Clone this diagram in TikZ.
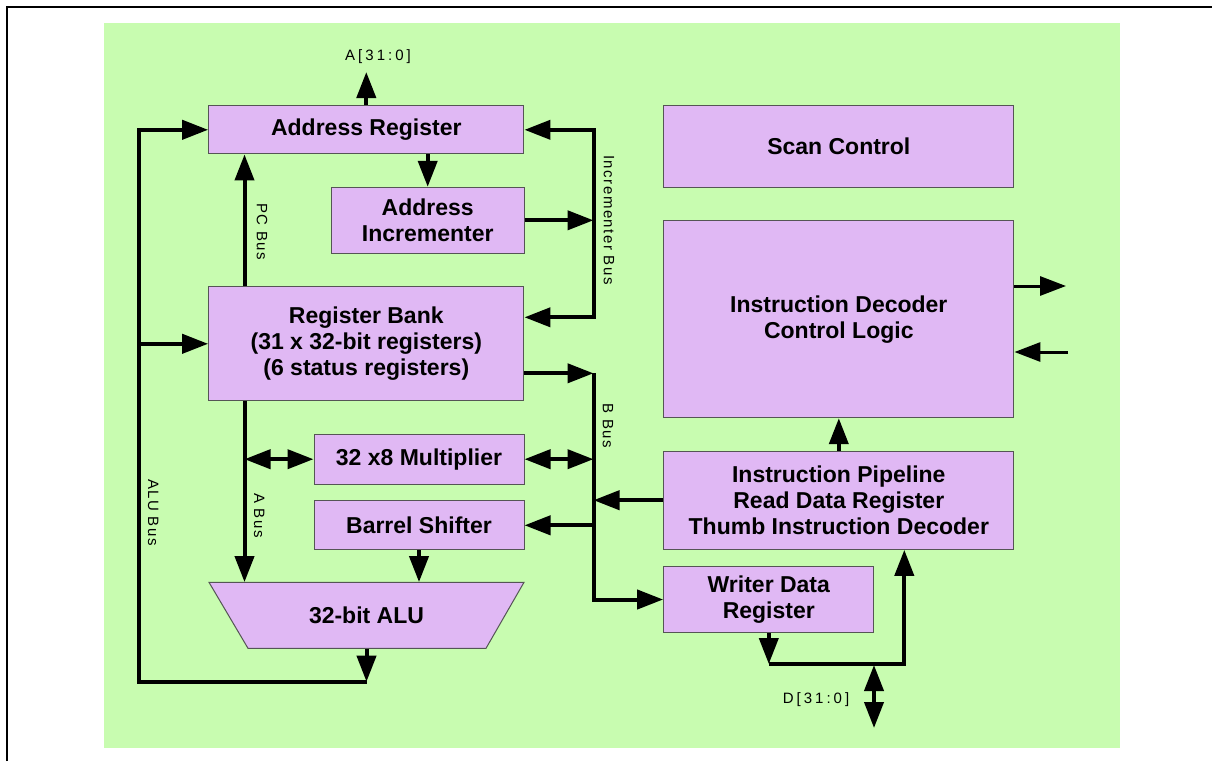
\documentclass[tikz,border=0pt]{standalone}
\usepackage{fontspec}
\setmainfont{Liberation Sans}
\newfontfamily\lblfont[LetterSpace=10]{Liberation Sans}
\newfontfamily\sigfont[LetterSpace=20]{Liberation Sans}
\usetikzlibrary{arrows.meta,calc}
\definecolor{bggreen}{RGB}{200,252,176}
\definecolor{boxpurple}{RGB}{224,184,244}
\definecolor{boxedge}{RGB}{85,85,85}
\tikzset{
  tri/.tip={Triangle[length=26pt 0 0,width=19pt 0 0]},
  blk/.style={draw=boxedge,line width=1pt,fill=boxpurple,inner sep=0pt,align=center,
    font=\bfseries\fontsize{23}{26}\selectfont},
  txt/.style={inner sep=0pt,align=center,font=\bfseries\fontsize{23}{26}\selectfont},
  bus/.style={line width=4pt,draw=black,line join=miter},
  thinbus/.style={line width=3pt,draw=black},
  lbl/.style={font=\lblfont\fontsize{15}{17}\selectfont,inner sep=0pt},
  sig/.style={font=\sigfont\fontsize{15}{17}\selectfont,inner sep=0pt}
}
\begin{document}
\begin{tikzpicture}[x=1pt,y=-1pt]
\useasboundingbox (0,0) rectangle (1212,761);
% frame and background
\draw[line width=2pt] (7,761) -- (7,7) -- (1212,7);
\fill[bggreen] (104,23) rectangle (1120,748);

% blocks
\node[blk,minimum width=315.3pt,minimum height=48.3pt] (ar) at (366.3,129.8) {Address Register};
\node[blk,minimum width=350.3pt,minimum height=81.7pt] (sc) at (838.8,146.2) {Scan Control};
\node[blk,minimum width=192.7pt,minimum height=66pt] (ai) at (427.7,220.3) {Address\\Incrementer};
\node[blk,minimum width=315.3pt,minimum height=114.3pt] (rb) at (366.3,343.8) {Register Bank\\(31 x 32-bit registers)\\(6 status registers)};
\node[blk,minimum width=350.3pt,minimum height=197pt] (id) at (838.8,319.2) {Instruction Decoder\\Control Logic};
\node[blk,minimum width=210pt,minimum height=49.7pt] (mul) at (419,459.2) {32 x8 Multiplier};
\node[blk,minimum width=210pt,minimum height=49.3pt] (bs) at (419,525.3) {Barrel Shifter};
\node[blk,minimum width=350.3pt,minimum height=98.3pt] (ip) at (838.8,500.2) {Instruction Pipeline\\Read Data Register\\Thumb Instruction Decoder};
\node[blk,minimum width=210.3pt,minimum height=65.6pt] (wdr) at (768.8,599.5) {Writer Data\\Register};

% ALU trapezoid
\coordinate (alutl) at (209,582.3);
\coordinate (alutr) at (524,582.3);
\coordinate (alubr) at (486,648.3);
\coordinate (alubl) at (248,648.3);
\filldraw[draw=boxedge,line width=1pt,fill=boxpurple] (alutl) -- (alutr) -- (alubr) -- (alubl) -- cycle;
\node[txt,minimum width=315pt,minimum height=66pt] (alu) at (366.5,615.3) {32-bit ALU};

% helper coordinates
\coordinate (aout) at (366.3,72);
\coordinate (abx) at (244.5,0);
\coordinate (ibtop) at (593.5,129.8);
\coordinate (ibbot) at (593.5,317.3);
\coordinate (bbtop) at (593.5,373.3);
\coordinate (bbbot) at (593.5,599.5);
\coordinate (alub) at (366.5,681.7);
\coordinate (alul) at (139.3,681.7);
\coordinate (idout) at (1066,286);
\coordinate (idin) at (1068,352);
\coordinate (wdrdown) at (768.8,664);
\coordinate (dright) at (904.3,664);
\coordinate (dtop) at (874,665);
\coordinate (dbot) at (874,728);

% connectors
\draw[bus,-tri] (ar.north) -- (aout);
\draw[bus,-tri] (rb.north -| abx) -- (ar.south -| abx);
\draw[bus,-tri] (ar.south -| ai.north) -- (ai.north);
\draw[bus,-tri] (ai.east) -- (ai.east -| ibtop);
\draw[bus,-tri] (ibbot) -- (ibtop) -- (ar.east);
\draw[bus,-tri] (ibtop) -- (ibbot) -- (rb.east |- ibbot);
\draw[bus,-tri] (rb.east |- bbtop) -- (bbtop);
\draw[bus,-tri] (bbtop) -- (bbbot) -- (wdr.west);
\draw[bus,tri-tri] (mul.east) -- (mul.east -| bbtop);
\draw[bus,-tri] (ip.west) -- (ip.west -| bbtop);
\draw[bus,-tri] (bs.east -| bbtop) -- (bs.east);
\draw[bus,tri-tri] (mul.west -| abx) -- (mul.west);
\draw[bus,-tri] (rb.south -| abx) -- (alu.north -| abx);
\draw[bus,-tri] (bs.south) -- (alu.north -| bs.south);
\draw[bus,-tri] (alu.south) -- (alub);
\draw[bus,-tri] (alub) -- (alul) |- (ar.west);
\draw[bus,-tri] (alul |- rb.west) -- (rb.west);
\draw[bus,-tri] (ip.north) -- (id.south);
\draw[thinbus,-tri] (id.east |- idout) -- (idout);
\draw[thinbus,-tri] (idin) -- (id.east |- idin);
\draw[bus,-tri] (wdr.south) -- (wdrdown);
\draw[bus,-tri] (wdrdown) -- (dright) -- (ip.south -| dright);
\draw[bus,tri-tri] (dtop) -- (dbot);

% labels
\node[sig] (la) at (378,57) {A[31:0]};
\node[lbl,rotate=-90] (lpc) at (262,231.7) {PC Bus};
\node[lbl,rotate=-90] (linc) at (609,220) {Incrementer Bus};
\node[lbl,rotate=-90] (lbb) at (608,426) {B Bus};
\node[lbl,rotate=-90] (lab) at (259.3,515.5) {A Bus};
\node[lbl,rotate=-90] (lalu) at (153.3,512.5) {ALU Bus};
\node[sig] (ld) at (816,700) {D[31:0]};
\end{tikzpicture}
\end{document}
